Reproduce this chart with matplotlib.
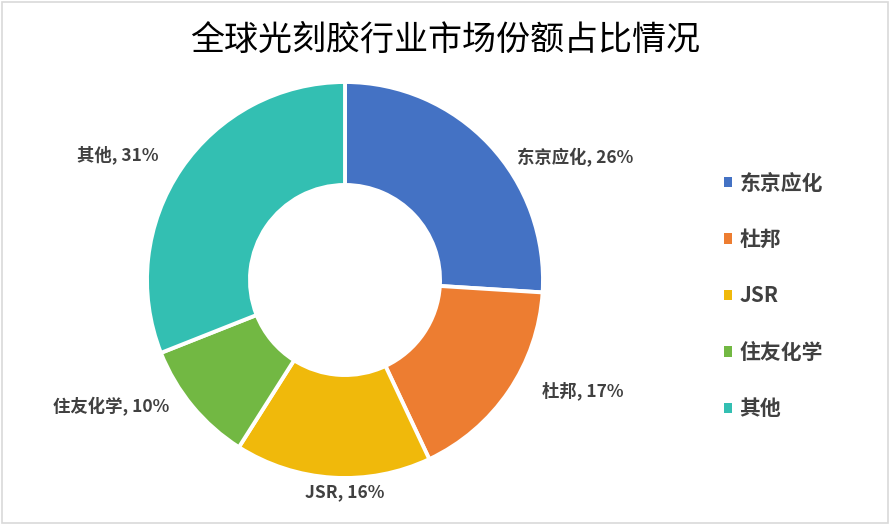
import matplotlib
matplotlib.use('Agg')
import matplotlib.pyplot as plt
from matplotlib.patches import Rectangle

plt.rcParams['font.family'] = ['Noto Sans CJK SC', 'DejaVu Sans']

title = '全球光刻胶行业市场份额占比情况'
companies = ['东京应化', '杜邦', 'JSR', '住友化学', '其他']
shares = [26, 17, 16, 10, 31]
colors = ['#4472C4', '#ED7D31', '#F0B90B', '#72B843', '#33BFB2']

# label positions in data units (radius = 1)
label_pos = [(1.16, 0.62), (1.20, -0.56), (0.0, -1.07), (-1.18, -0.64), (-1.15, 0.63)]

fig = plt.figure(figsize=(8.9, 5.25), dpi=100)

# pie centre at (345, 280) px, radius ~198 px
cx, cy, r = 345, 280, 198
ax = fig.add_axes([(cx - r) / 890, (525 - cy - r) / 525, 2 * r / 890, 2 * r / 525])
wedges, _ = ax.pie(shares, colors=colors, startangle=90, counterclock=False,
                   radius=1.0, wedgeprops=dict(width=0.52, edgecolor='white', linewidth=2.8))
ax.set_xlim(-1, 1)
ax.set_ylim(-1, 1)
ax.set_aspect('equal')
ax.axis('off')

for name, val, (x, y) in zip(companies, shares, label_pos):
    ax.text(x, y, f'{name}, {val}%', ha='center', va='center', fontsize=12.5,
            fontweight='bold', color='#404040', clip_on=False)

fig.text(0.5, 1 - 40 / 525, title, ha='center', va='center', fontsize=24.5,
         fontweight='medium', color='black')

leg = fig.legend(wedges, companies, loc='center left', bbox_to_anchor=(705 / 890, 1 - 296 / 525),
                 frameon=False, prop={'size': 15, 'weight': 'bold'},
                 handlelength=0.4, handleheight=0.4, handletextpad=0.35, labelspacing=1.7)
for t in leg.get_texts():
    t.set_color('#404040')
for h in leg.legend_handles:
    h.set_edgecolor('none')

fig.patches.append(Rectangle((0.002, 0.003), 0.996, 0.994, transform=fig.transFigure,
                             fill=False, edgecolor='#D9D9D9', linewidth=1.2))

fig.savefig('out.png', dpi=100)
